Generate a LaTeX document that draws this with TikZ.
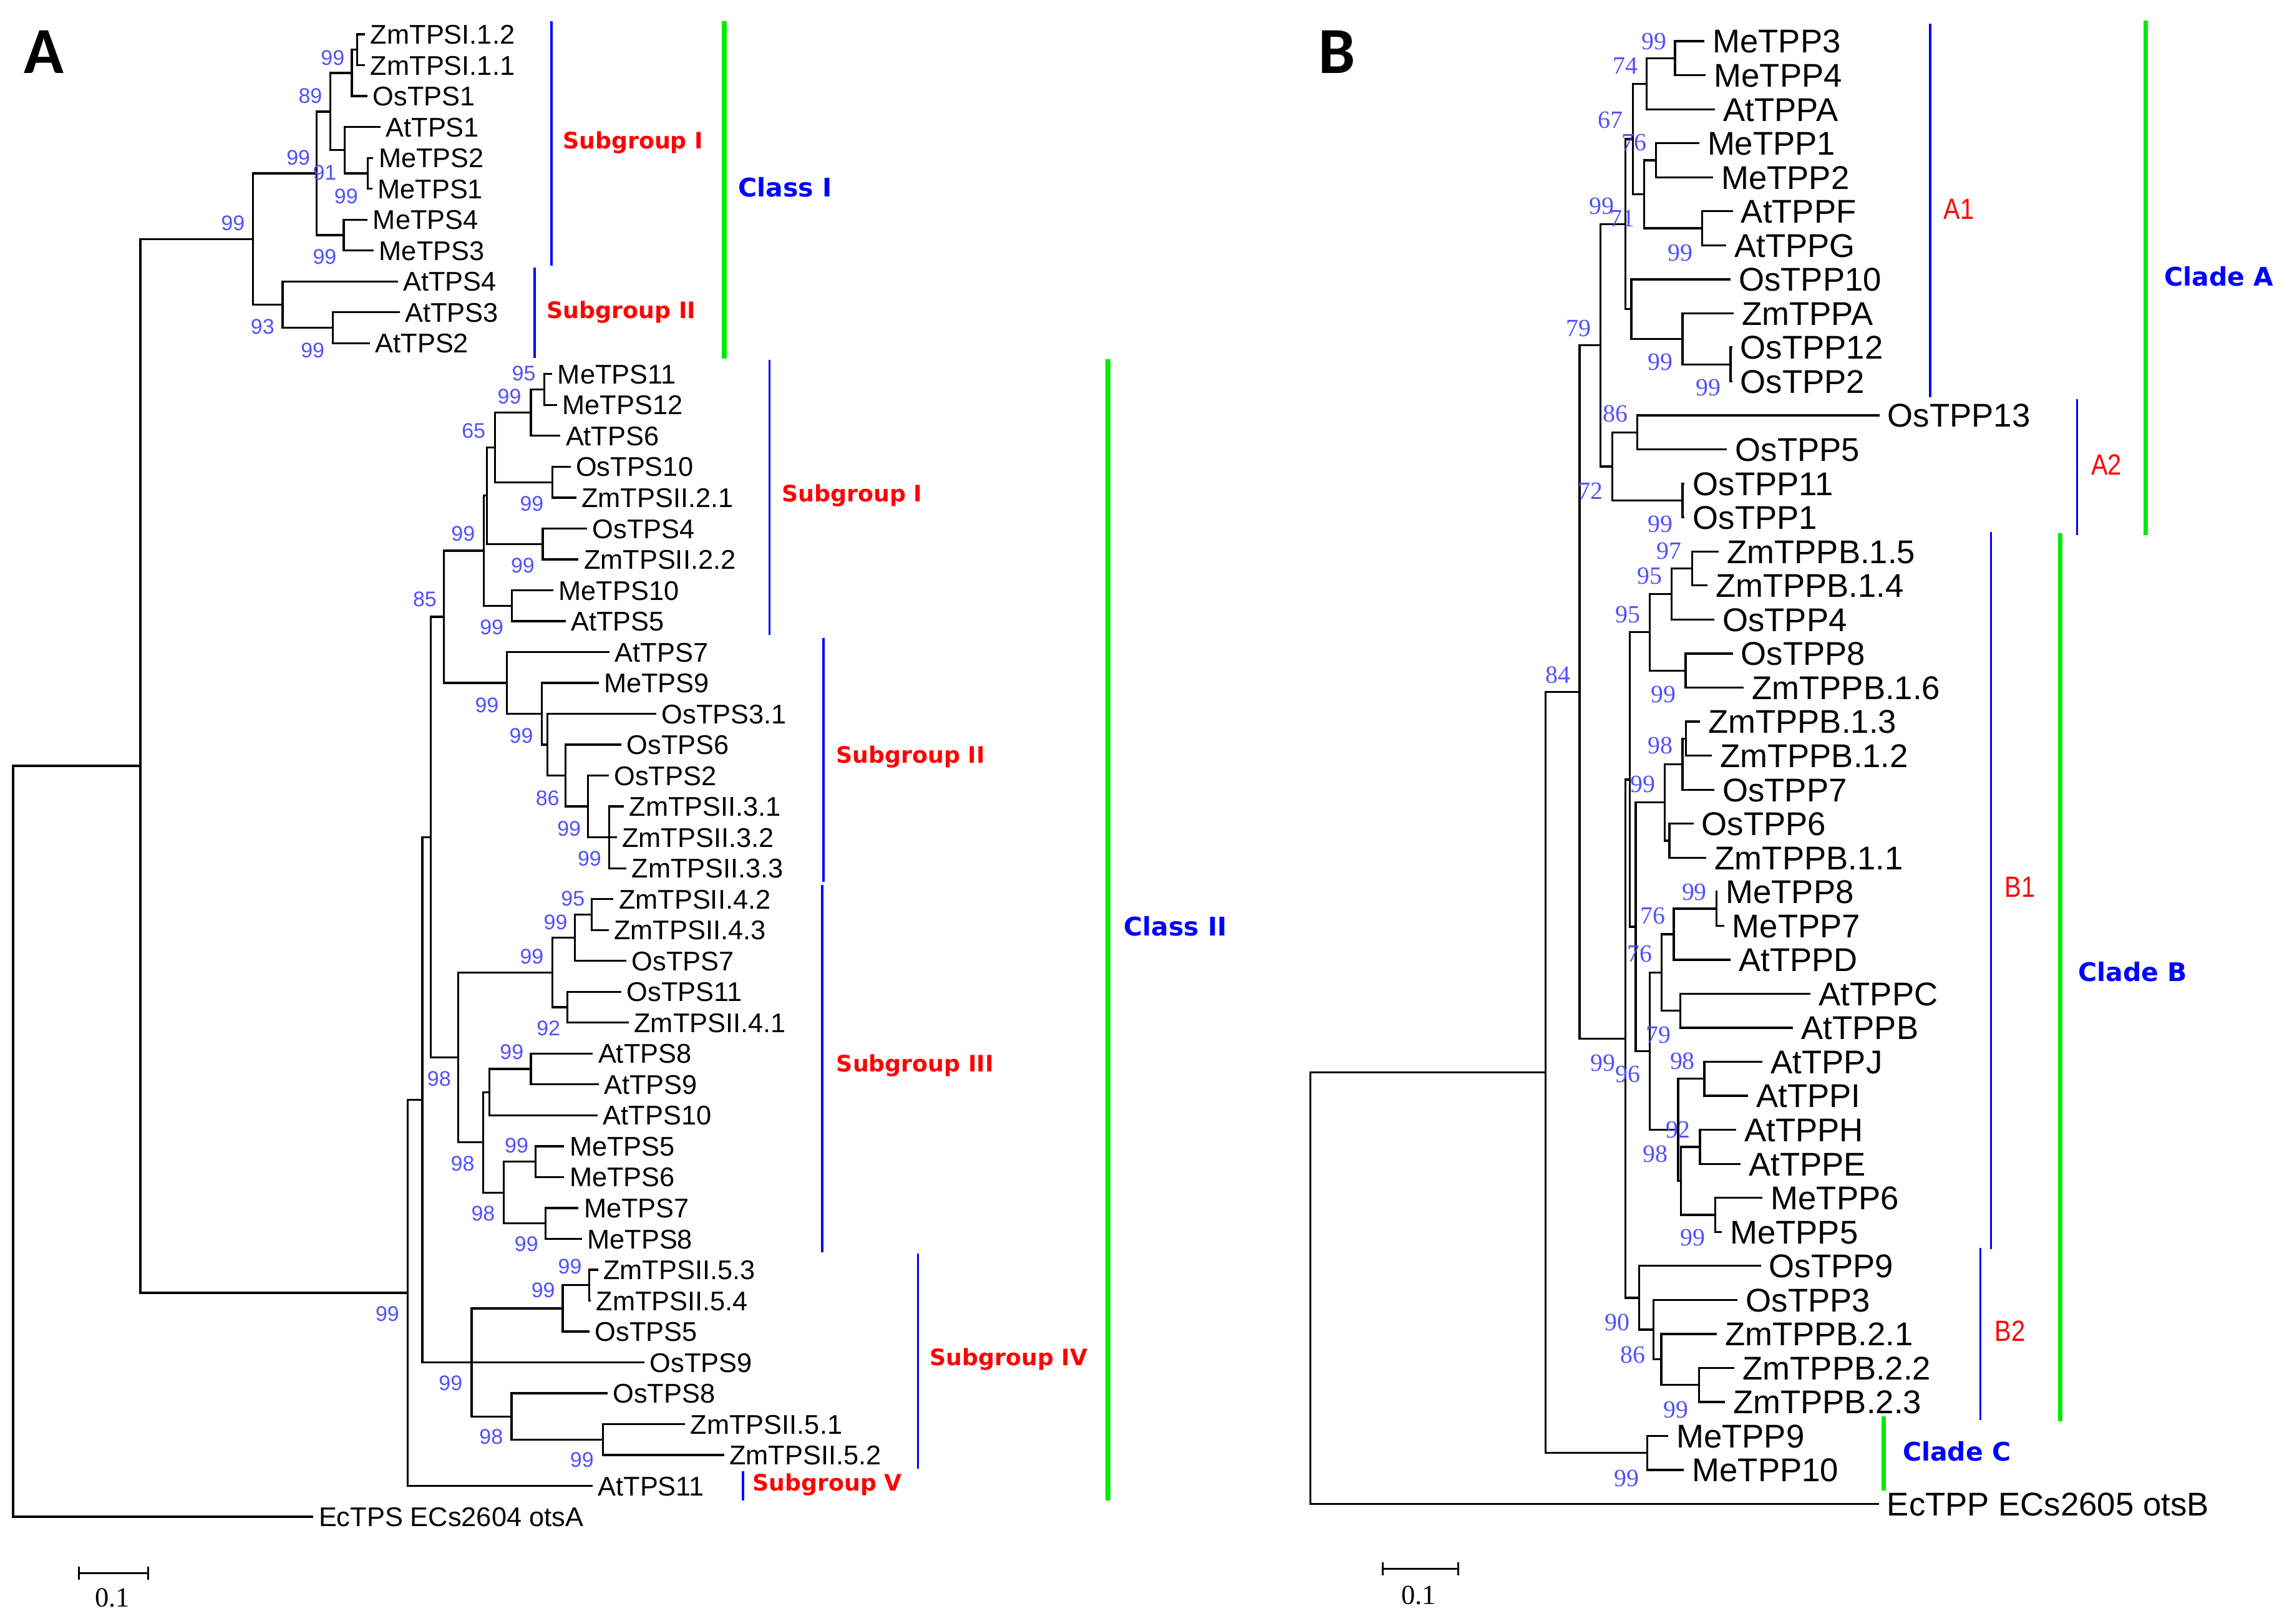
\documentclass[tikz,border=0pt]{standalone}
\usepackage{fontspec}
\setmainfont{Liberation Sans}
\newfontfamily\numfont{Liberation Serif}
\newfontfamily\grpfont{DejaVu Sans}
\newfontfamily\panelfont{Carlito}
\usetikzlibrary{calc}

\definecolor{bsblue}{RGB}{80,80,255}
\definecolor{barblue}{RGB}{0,0,255}
\definecolor{bargreen}{RGB}{0,235,0}

\tikzset{
  branch/.style={line width=1.4pt},
  leafA/.style={anchor=west, inner xsep=3.5pt, inner ysep=0pt, text height=13.3pt, text depth=0pt, font=\fontsize{18.5}{18.5}\selectfont},
  leafB/.style={anchor=west, inner xsep=5.5pt, inner ysep=0pt, text height=16.1pt, text depth=0pt, font=\fontsize{22.5}{22.5}\selectfont},
  bsA/.style={inner sep=0pt, text=bsblue, font=\fontsize{14.5}{14.5}\selectfont},
  bsB/.style={inner sep=0pt, text=bsblue, font=\numfont\fontsize{17}{17}\selectfont},
  subbar/.style={barblue, line width=1.5pt},
  classbar/.style={bargreen, line width=3.2pt},
  sublabel/.style={text=red, font=\grpfont\bfseries\fontsize{15.5}{15.5}\selectfont},
  classlabel/.style={text=barblue, font=\grpfont\bfseries\fontsize{17.5}{17.5}\selectfont},
  cladelabel/.style={text=red, xscale=0.85, font=\fontsize{20}{20}\selectfont},
  panel/.style={font=\panelfont\bfseries\fontsize{45}{45}\selectfont},
  scalebar/.style={line width=1.4pt},
  scaletext/.style={font=\numfont\fontsize{19}{19}\selectfont},
}

% clade: name, x, upper child, lower child
\newcommand{\clade}[4]{%
  \coordinate (#1m) at ($(#3)!0.5!(#4)$);
  \coordinate (#1) at (#2,0 |- #1m);
  \draw[branch] (#3) -- (#1 |- #3) -- (#1 |- #4) -- (#4);
}

\begin{document}
\begin{tikzpicture}[x=1pt,y=-1pt]
\useasboundingbox (0,0) rectangle (1568,1111);

% ---------- panel A ----------
\node[panel] (pa) at (29.9,35.5) {A};
\foreach \x/\t [count=\i] in {
  249.8/ZmTPSI.1.2, 249.8/ZmTPSI.1.1, 251.5/OsTPS1, 260.3/AtTPS1, 255.4/MeTPS2,
  254.7/MeTPS1, 251.5/MeTPS4, 255.7/MeTPS3, 272.1/AtTPS4, 273.4/AtTPS3,
  253.1/AtTPS2, 377.8/MeTPS11, 381.1/MeTPS12, 383.4/AtTPS6, 390.3/OsTPS10,
  394.2/ZmTPSII.2.1, 401.7/OsTPS4, 395.8/ZmTPSII.2.2, 378.5/MeTPS10, 387.0/AtTPS5,
  417.0/AtTPS7, 409.5/MeTPS9, 449.0/OsTPS3.1, 425.2/OsTPS6, 416.4/OsTPS2,
  426.8/ZmTPSII.3.1, 421.9/ZmTPSII.3.2, 428.5/ZmTPSII.3.3, 419.7/ZmTPSII.4.2, 416.4/ZmTPSII.4.3,
  428.5/OsTPS7, 425.2/OsTPS11, 430.1/ZmTPSII.4.1, 405.6/AtTPS8, 409.5/AtTPS9,
  408.9/AtTPS10, 386.0/MeTPS5, 386.0/MeTPS6, 395.8/MeTPS7, 398.1/MeTPS8,
  409.1/ZmTPSII.5.3, 404.2/ZmTPSII.5.4, 403.4/OsTPS5, 441.0/OsTPS9, 415.6/OsTPS8,
  468.7/ZmTPSII.5.1, 495.3/ZmTPSII.5.2, 405.4/AtTPS11, 214.4/EcTPS ECs2604 otsA}
  \node[leafA] (ta\i) at (\x,{23.5+21.135*(\i-1)}) {\t};

% class I
\clade{a1}{244.3}{ta1}{ta2}
\clade{a2}{240.7}{a1}{ta3}
\clade{a3}{251.5}{ta5}{ta6}
\clade{a4}{235.8}{ta4}{a3}
\clade{a5}{226.0}{a2}{a4}
\clade{a6}{235.2}{ta7}{ta8}
\clade{a7}{216.5}{a5}{a6}
\clade{a8}{227.6}{ta10}{ta11}
\clade{a9}{193.3}{ta9}{a8}
\clade{a10}{173.1}{a7}{a9}
% class II, subgroup I
\clade{b1}{372.3}{ta12}{ta13}
\clade{b2}{363.2}{b1}{ta14}
\clade{b3}{377.8}{ta15}{ta16}
\clade{b4}{338.7}{b2}{b3}
\clade{b5}{371.3}{ta17}{ta18}
\clade{b6}{333.1}{b4}{b5}
\clade{b8}{350.1}{ta19}{ta20}
\clade{b7}{331.1}{b6}{b8}
% subgroup II
\coordinate (c6) at (416.7,0 |- ta27);
\draw[branch] (ta26) -- (c6 |- ta26) -- (c6 |- ta28) -- (ta28);
\draw[branch] (c6) -- (ta27);
\clade{c5}{402.3}{ta25}{c6}
\clade{c4}{387.0}{ta24}{c5}
\clade{c3}{374.6}{ta23}{c4}
\clade{c2}{370.7}{ta22}{c3}
\clade{c1}{346.8}{ta21}{c2}
\clade{b9}{303.7}{b7}{c1}
% subgroup III
\clade{e5}{404.9}{ta29}{ta30}
\clade{e3}{393.2}{e5}{ta31}
\clade{e4}{388.3}{ta32}{ta33}
\clade{e2}{377.9}{e3}{e4}
\clade{e8}{363.2}{ta34}{ta35}
\clade{e7}{334.7}{e8}{ta36}
\clade{e10}{366.4}{ta37}{ta38}
\clade{e11}{373.3}{ta39}{ta40}
\clade{e9}{344.7}{e10}{e11}
\clade{e6}{330.5}{e7}{e9}
\clade{e1}{313.5}{e2}{e6}
\clade{d1}{294.6}{b9}{e1}
% subgroup IV, V
\clade{f3}{403.0}{ta41}{ta42}
\clade{f2}{385.0}{f3}{ta43}
\clade{f5}{412.4}{ta46}{ta47}
\clade{f4}{349.9}{ta45}{f5}
\clade{f1}{322.6}{f2}{f4}
\clade{f0}{288.9}{ta44}{f1}
\clade{d2}{288.9}{d1}{f0}
\clade{d3}{278.9}{d2}{ta48}
\clade{r2}{96.0}{a10}{d3}
\clade{r1}{9.0}{r2}{ta49}

\foreach \x/\y/\v [count=\i] in {
  227.6/39.7/99, 212.3/65.8/89, 204.1/108.0/99, 222.1/118.2/91, 236.8/134.2/99,
  159.4/152.8/99, 222.1/175.9/99, 179.6/223.7/93, 213.9/239.7/99,
  358.3/255.7/95, 348.5/271.3/99, 324.0/294.9/65, 363.8/344.8/99, 316.8/365.4/99,
  357.6/387.0/99, 290.6/409.9/85, 336.4/429.1/99,
  333.1/482.6/99, 356.6/503.6/99, 374.6/546.4/86, 389.3/567.3/99, 403.3/587.7/99,
  391.9/615.0/95, 380.1/631.2/99, 363.8/654.4/99, 375.2/703.6/92, 350.1/719.8/99,
  300.4/738.3/98, 353.4/783.7/99, 316.5/796.1/98, 330.5/830.4/98,
  360.1/851.5/99, 389.9/866.9/99, 371.6/883.1/99, 265.0/899.0/99, 308.3/946.4/99,
  336.0/983.4/98, 398.1/998.8/99}
  \node[bsA] (bsa\i) at (\x,\y) {\v};

\draw[subbar] (377.2,14.3) -- (377.2,182);
\node[sublabel] (sga1) at (433,97.5) {Subgroup I};
\draw[subbar] (365.8,183.1) -- (365.8,244.8);
\node[sublabel] (sga2) at (425,213.5) {Subgroup II};
\draw[classbar] (495.4,14.3) -- (495.4,245.6);
\node[classlabel] (cla1) at (537,128) {Class I};
\draw[subbar] (526.5,246.4) -- (526.5,434.6);
\node[sublabel] (sgb1) at (583,339) {Subgroup I};
\draw[subbar] (563.4,436.6) -- (563.4,603.6);
\node[sublabel] (sgb2) at (623,518) {Subgroup II};
\draw[subbar] (562.5,605.5) -- (562.5,856.9);
\node[sublabel] (sgb3) at (626,729) {Subgroup III};
\draw[subbar] (628,857.8) -- (628,1005.1);
\node[sublabel] (sgb4) at (690,930) {Subgroup IV};
\draw[subbar] (508.3,1006.9) -- (508.3,1026.8);
\node[sublabel] (sgb5) at (566,1016) {Subgroup V};
\draw[classbar] (758,246) -- (758,1027);
\node[classlabel] (cla2) at (804,634) {Class II};

\draw[scalebar] (53.9,1072) -- (53.9,1081) (53.9,1076.5) -- (101.3,1076.5) (101.3,1072) -- (101.3,1081);
\node[scaletext] (sca) at (76.8,1093.6) {0.1};

% ---------- panel B ----------
\node[panel] (pb) at (914.8,35.5) {B};
\foreach \x/\t [count=\i] in {
  1166.0/MeTPP3, 1166.9/MeTPP4, 1173.4/AtTPPA, 1162.4/MeTPP1, 1171.9/MeTPP2,
  1185.4/AtTPPF, 1180.9/AtTPPG, 1183.9/OsTPP10, 1186.0/ZmTPPA, 1185.0/OsTPP12,
  1185.0/OsTPP2, 1285.7/OsTPP13, 1181.5/OsTPP5, 1152.5/OsTPP11, 1152.5/OsTPP1,
  1175.8/ZmTPPB.1.5, 1168.0/ZmTPPB.1.4, 1172.8/OsTPP4, 1185.4/OsTPP8, 1192.9/ZmTPPB.1.6,
  1162.9/ZmTPPB.1.3, 1171.0/ZmTPPB.1.2, 1172.8/OsTPP7, 1158.5/OsTPP6, 1167.4/ZmTPPB.1.1,
  1175.0/MeTPP8, 1179.4/MeTPP7, 1183.9/AtTPPD, 1238.7/AtTPPC, 1226.7/AtTPPB,
  1205.8/AtTPPJ, 1195.9/AtTPPI, 1187.8/AtTPPH, 1190.8/AtTPPE, 1205.8/MeTPP6,
  1177.9/MeTPP5, 1204.6/OsTPP9, 1188.7/OsTPP3, 1174.4/ZmTPPB.2.1, 1186.5/ZmTPPB.2.2,
  1180.0/ZmTPPB.2.3, 1141.2/MeTPP9, 1152.0/MeTPP10, 1285.3/EcTPP ECs2605 otsB}
  \node[leafB] (tb\i) at (\x,{28.2+23.28*(\i-1)}) {\t};

% clade A
\clade{g1}{1145.9}{tb1}{tb2}
\clade{g2}{1126.4}{g1}{tb3}
\clade{g3}{1133.0}{tb4}{tb5}
\clade{g4}{1164.5}{tb6}{tb7}
\clade{g5}{1124.9}{g3}{g4}
\clade{g6}{1117.1}{g2}{g5}
\clade{g7}{1183.9}{tb10}{tb11}
\clade{g8}{1151.0}{tb9}{g7}
\clade{g9}{1116.0}{tb8}{g8}
\clade{g10}{1112.1}{g6}{g9}
\clade{h1}{1120.1}{tb12}{tb13}
\clade{h2}{1151.0}{tb14}{tb15}
\clade{h3}{1103.1}{h1}{h2}
\clade{g11}{1095.0}{g10}{h3}
% clade B
\clade{n1}{1157.6}{tb16}{tb17}
\clade{n2}{1143.5}{n1}{tb18}
\clade{n3}{1153.1}{tb19}{tb20}
\clade{n4}{1128.5}{n2}{n3}
\clade{p1}{1153.4}{tb21}{tb22}
\clade{p2}{1151.0}{p1}{tb23}
\clade{p3}{1142.0}{tb24}{tb25}
\clade{p4}{1139.0}{p2}{p3}
\clade{q1}{1174.3}{tb26}{tb27}
\clade{q2}{1145.0}{q1}{tb28}
\clade{q3}{1149.5}{tb29}{tb30}
\clade{q4}{1136.6}{q2}{q3}
\clade{s1}{1166.0}{tb31}{tb32}
\clade{s2}{1163.0}{tb33}{tb34}
\clade{s3}{1173.4}{tb35}{tb36}
\clade{s4}{1150.1}{s2}{s3}
\clade{s5}{1148.0}{s1}{s4}
\clade{q5}{1128.5}{q4}{s5}
\clade{p5}{1119.0}{p4}{q5}
\clade{n5}{1115.1}{n4}{p5}
\clade{u1}{1162.4}{tb40}{tb41}
\clade{u2}{1136.5}{tb39}{u1}
\clade{u3}{1131.3}{tb38}{u2}
\clade{u4}{1121.4}{tb37}{u3}
\clade{m1}{1111.9}{n5}{u4}
\clade{g12}{1080.6}{g11}{m1}
% clade C and root
\clade{v1}{1127.0}{tb42}{tb43}
\clade{k1}{1057.2}{g12}{v1}
\clade{r3}{896.4}{k1}{tb44}

\foreach \x/\y/\v [count=\i] in {
  1131.5/28.2/99, 1112.1/44.8/74, 1101.6/82.3/67, 1118.0/97.6/76, 1095.6/141.0/99,
  1110.0/149.6/71, 1149.5/173.1/99, 1080.0/224.5/79, 1136.0/247.8/99, 1168.9/265.3/99,
  1105.2/283.0/86, 1088.1/336.0/72, 1136.0/358.9/99, 1142.0/377.0/97, 1128.5/394.2/95,
  1113.6/420.5/95, 1065.7/461.8/84, 1138.1/475.2/99, 1136.0/510.4/98, 1124.0/536.7/99,
  1159.1/610.5/99, 1130.6/626.7/76, 1121.9/652.8/76, 1134.5/708.3/79, 1096.5/727.3/99,
  1113.6/735.3/96, 1151.0/726.2/98, 1148.0/773.1/92, 1132.4/789.7/98, 1157.9/846.8/99,
  1106.3/904.9/90, 1117.1/927.0/86, 1146.4/964.9/99, 1112.8/1011.6/99}
  \node[bsB] (bsb\i) at (\x,\y) {\v};

\draw[subbar] (1320.5,16.2) -- (1320.5,272);
\node[cladelabel] (la1) at (1340,143) {A1};
\draw[subbar] (1421,273) -- (1421,366);
\node[cladelabel] (la2) at (1441,318) {A2};
\draw[classbar] (1468,14) -- (1468,366);
\node[classlabel] (clda) at (1518,189) {Clade A};
\draw[subbar] (1362,364) -- (1362,855);
\node[cladelabel] (lb1) at (1382,607) {B1};
\draw[subbar] (1354.7,854) -- (1354.7,971.7);
\node[cladelabel] (lb2) at (1375,911) {B2};
\draw[classbar] (1409.4,365) -- (1409.4,972.5);
\node[classlabel] (cldb) at (1459,665) {Clade B};
\draw[classbar] (1288.7,969) -- (1288.7,1020);
\node[classlabel] (cldc) at (1338.7,993) {Clade C};

\draw[scalebar] (945.9,1069) -- (945.9,1078) (945.9,1073.6) -- (997.6,1073.6) (997.6,1069) -- (997.6,1078);
\node[scaletext] (scb) at (970.5,1091.5) {0.1};
\end{tikzpicture}
\end{document}
